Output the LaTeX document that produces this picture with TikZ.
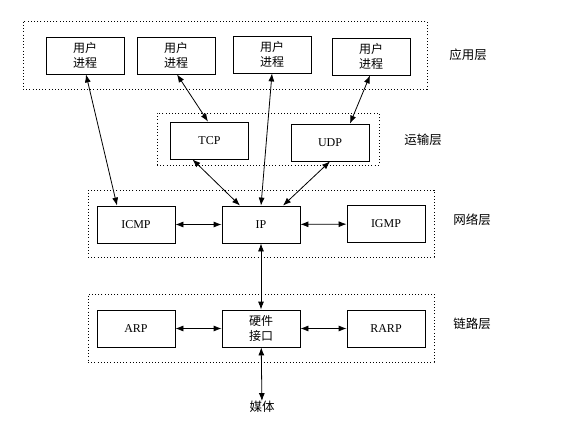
\documentclass[tikz,border=0pt]{standalone}
\usepackage{fontspec}
\setmainfont{Liberation Serif}
\newfontfamily\cjk{Noto Sans CJK SC}
\usetikzlibrary{arrows.meta,positioning}

\begin{document}
\begin{tikzpicture}[x=1pt,y=-1pt,
    >={Latex[length=8pt,width=6pt]},
    box/.style={draw,fill=white,line width=0.8pt,minimum width=78pt,minimum height=37pt,
      inner sep=0pt,align=center,font=\fontsize{12}{15}\selectfont},
    cbox/.style={box,font=\cjk\fontsize{12}{15}\selectfont},
    layer/.style={draw,line width=0.9pt,dash pattern=on 1pt off 2.2pt,inner sep=0pt},
    tag/.style={font=\cjk\fontsize{12.5}{14}\selectfont,inner sep=0pt}]
    \useasboundingbox (0,0) rectangle (565,425);
    %layers
    \node[layer,minimum width=404pt,minimum height=68pt] (app) at (225,55) {};
    \node[layer,minimum width=222pt,minimum height=52pt] (trans) at (268,139) {};
    \node[layer,minimum width=346pt,minimum height=67pt] (net) at (261,223.5) {};
    \node[layer,minimum width=346pt,minimum height=68pt] (link) at (261,328) {};
    \node[tag] (lapp) at (468,55) {应用层};
    \node[tag] (ltrans) at (423,140) {运输层};
    \node[tag] (lnet) at (472,220) {网络层};
    \node[tag] (llink) at (472,324) {链路层};
    %states
    \node[cbox] (u1) at (85,55.5) {用户\\进程};
    \node[cbox] (u2) at (176,55.5) {用户\\进程};
    \node[cbox] (u3) at (272,54.5) {用户\\进程};
    \node[cbox] (u4) at (371,56.5) {用户\\进程};
    \node[box] (tcp) at (209.5,140.5) {TCP};
    \node[box] (udp) at (330,142.5) {UDP};
    \node[box] (icmp) at (136,224.5) {ICMP};
    \node[box] (ip) at (261,224.5) {IP};
    \node[box] (igmp) at (386,224) {IGMP};
    \node[box] (arp) at (136,328.5) {ARP};
    \node[cbox] (hw) at (261,328.5) {硬件\\接口};
    \node[box] (rarp) at (386,328.5) {RARP};
    \node[tag] (media) at (262,407) {媒体};
    %edges
    \path[<->,line width=0.8pt]
     ([xshift=1pt]u1.south) edge ([xshift=-19pt]icmp.north)
     ([xshift=1pt]u2.south) edge ([xshift=-1.5pt]tcp.north)
     (u3.south) edge (ip.north)
     ([xshift=-1pt]u4.south) edge ([xshift=20pt]udp.north)
     ([xshift=-17pt]tcp.south) edge ([xshift=-21pt]ip.north)
     (udp.south) edge ([xshift=22pt]ip.north)
     (icmp) edge (ip)
     (ip) edge (igmp)
     (ip) edge (hw)
     (arp) edge (hw)
     (hw) edge (rarp)
     (hw) edge (media);
\end{tikzpicture}
\end{document}
